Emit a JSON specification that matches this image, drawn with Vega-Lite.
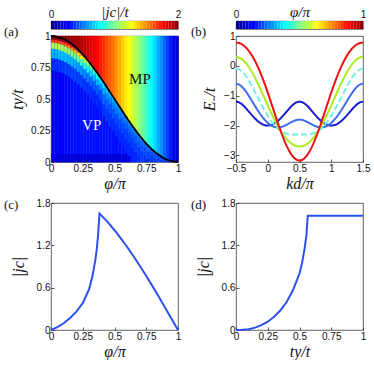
{
"$schema":"https://vega.github.io/schema/vega-lite/v6.json",
"background":"white",
"padding":{"left":3,"top":3,"right":0,"bottom":0},
"config":{
 "font":"Liberation Sans",
 "view":{"stroke":"#3a3a3a","strokeWidth":0.8},
 "axis":{"domain":false,"grid":false,"labelFont":"Liberation Sans","labelFontSize":10,"labelColor":"#111","tickColor":"#333","tickSize":-3,"tickWidth":0.8,"labelPadding":4,"titleFont":"Liberation Serif","titleFontStyle":"italic","titleFontWeight":"normal","titleFontSize":16,"titleColor":"#111","labelFlush":false,"labelOverlap":false,"format":".2~f"},
 "axisX":{"titlePadding":2},
 "axisY":{"titlePadding":5},
 "text":{"font":"Liberation Serif","fontSize":13,"color":"#111","align":"left","baseline":"middle"}
},
"datasets":{
"heat":[
{"p":0,"lo":0,"hi":1,"v":0.2},{"p":0,"lo":0,"hi":0.06,"v":0.16},{"p":0,"lo":0.725,"hi":0.825,"v":0.34},{"p":0,"lo":0.825,"hi":0.9,"v":0.61},{"p":0,"lo":0.9,"hi":0.95,"v":1.1},{"p":0,"lo":0.95,"hi":0.975,"v":1.64},{"p":0,"lo":0.975,"hi":1,"v":2},
{"p":0.025,"lo":0,"hi":0.997,"v":0.2},{"p":0.025,"lo":0,"hi":0.06,"v":0.16},{"p":0.025,"lo":0.722,"hi":0.822,"v":0.34},{"p":0.025,"lo":0.822,"hi":0.897,"v":0.61},{"p":0.025,"lo":0.897,"hi":0.947,"v":1.1},{"p":0.025,"lo":0.947,"hi":0.972,"v":1.63},{"p":0.025,"lo":0.972,"hi":0.997,"v":1.99},{"p":0.025,"lo":0.997,"hi":1,"v":2},
{"p":0.05,"lo":0,"hi":0.99,"v":0.23},{"p":0.05,"lo":0,"hi":0.06,"v":0.16},{"p":0.05,"lo":0.715,"hi":0.815,"v":0.36},{"p":0.05,"lo":0.815,"hi":0.89,"v":0.63},{"p":0.05,"lo":0.89,"hi":0.94,"v":1.1},{"p":0.05,"lo":0.94,"hi":0.965,"v":1.61},{"p":0.05,"lo":0.965,"hi":0.99,"v":1.96},{"p":0.05,"lo":0.99,"hi":1,"v":2},
{"p":0.075,"lo":0,"hi":0.981,"v":0.23},{"p":0.075,"lo":0,"hi":0.06,"v":0.16},{"p":0.075,"lo":0.706,"hi":0.806,"v":0.36},{"p":0.075,"lo":0.806,"hi":0.881,"v":0.62},{"p":0.075,"lo":0.881,"hi":0.931,"v":1.08},{"p":0.075,"lo":0.931,"hi":0.956,"v":1.59},{"p":0.075,"lo":0.956,"hi":0.981,"v":1.93},{"p":0.075,"lo":0.981,"hi":1,"v":1.99},
{"p":0.1,"lo":0,"hi":0.969,"v":0.26},{"p":0.1,"lo":0,"hi":0.06,"v":0.16},{"p":0.1,"lo":0.694,"hi":0.794,"v":0.39},{"p":0.1,"lo":0.794,"hi":0.869,"v":0.63},{"p":0.1,"lo":0.869,"hi":0.919,"v":1.07},{"p":0.1,"lo":0.919,"hi":0.944,"v":1.56},{"p":0.1,"lo":0.944,"hi":0.969,"v":1.88},{"p":0.1,"lo":0.969,"hi":1,"v":1.99},
{"p":0.125,"lo":0,"hi":0.954,"v":0.26},{"p":0.125,"lo":0,"hi":0.06,"v":0.16},{"p":0.125,"lo":0.679,"hi":0.779,"v":0.38},{"p":0.125,"lo":0.779,"hi":0.854,"v":0.62},{"p":0.125,"lo":0.854,"hi":0.904,"v":1.04},{"p":0.125,"lo":0.904,"hi":0.929,"v":1.5},{"p":0.125,"lo":0.929,"hi":0.954,"v":1.81},{"p":0.125,"lo":0.954,"hi":1,"v":1.97},
{"p":0.15,"lo":0,"hi":0.936,"v":0.28},{"p":0.15,"lo":0,"hi":0.06,"v":0.16},{"p":0.15,"lo":0.661,"hi":0.761,"v":0.39},{"p":0.15,"lo":0.761,"hi":0.836,"v":0.62},{"p":0.15,"lo":0.836,"hi":0.886,"v":1.01},{"p":0.15,"lo":0.886,"hi":0.911,"v":1.45},{"p":0.15,"lo":0.911,"hi":0.936,"v":1.74},{"p":0.15,"lo":0.936,"hi":1,"v":1.96},
{"p":0.175,"lo":0,"hi":0.916,"v":0.28},{"p":0.175,"lo":0,"hi":0.06,"v":0.16},{"p":0.175,"lo":0.641,"hi":0.741,"v":0.39},{"p":0.175,"lo":0.741,"hi":0.816,"v":0.6},{"p":0.175,"lo":0.816,"hi":0.866,"v":0.97},{"p":0.175,"lo":0.866,"hi":0.891,"v":1.38},{"p":0.175,"lo":0.891,"hi":0.916,"v":1.65},{"p":0.175,"lo":0.916,"hi":1,"v":1.94},
{"p":0.2,"lo":0,"hi":0.893,"v":0.28},{"p":0.2,"lo":0,"hi":0.06,"v":0.16},{"p":0.2,"lo":0.618,"hi":0.718,"v":0.38},{"p":0.2,"lo":0.718,"hi":0.793,"v":0.57},{"p":0.2,"lo":0.793,"hi":0.843,"v":0.92},{"p":0.2,"lo":0.843,"hi":0.868,"v":1.3},{"p":0.2,"lo":0.868,"hi":0.893,"v":1.55},{"p":0.2,"lo":0.893,"hi":1,"v":1.92},
{"p":0.225,"lo":0,"hi":0.867,"v":0.28},{"p":0.225,"lo":0,"hi":0.06,"v":0.16},{"p":0.225,"lo":0.592,"hi":0.692,"v":0.37},{"p":0.225,"lo":0.692,"hi":0.767,"v":0.55},{"p":0.225,"lo":0.767,"hi":0.817,"v":0.86},{"p":0.225,"lo":0.817,"hi":0.842,"v":1.21},{"p":0.225,"lo":0.842,"hi":0.867,"v":1.44},{"p":0.225,"lo":0.867,"hi":1,"v":1.9},
{"p":0.25,"lo":0,"hi":0.839,"v":0.28},{"p":0.25,"lo":0,"hi":0.06,"v":0.16},{"p":0.25,"lo":0.564,"hi":0.664,"v":0.36},{"p":0.25,"lo":0.664,"hi":0.739,"v":0.52},{"p":0.25,"lo":0.739,"hi":0.789,"v":0.8},{"p":0.25,"lo":0.789,"hi":0.814,"v":1.1},{"p":0.25,"lo":0.814,"hi":0.839,"v":1.31},{"p":0.25,"lo":0.839,"hi":1,"v":1.87},
{"p":0.275,"lo":0,"hi":0.81,"v":0.28},{"p":0.275,"lo":0,"hi":0.06,"v":0.16},{"p":0.275,"lo":0.535,"hi":0.635,"v":0.35},{"p":0.275,"lo":0.635,"hi":0.71,"v":0.49},{"p":0.275,"lo":0.71,"hi":0.76,"v":0.74},{"p":0.275,"lo":0.76,"hi":0.785,"v":1.01},{"p":0.275,"lo":0.785,"hi":0.81,"v":1.19},{"p":0.275,"lo":0.81,"hi":1,"v":1.85},
{"p":0.3,"lo":0,"hi":0.778,"v":0.28},{"p":0.3,"lo":0,"hi":0.06,"v":0.16},{"p":0.3,"lo":0.503,"hi":0.603,"v":0.34},{"p":0.3,"lo":0.603,"hi":0.678,"v":0.46},{"p":0.3,"lo":0.678,"hi":0.728,"v":0.67},{"p":0.3,"lo":0.728,"hi":0.753,"v":0.9},{"p":0.3,"lo":0.753,"hi":0.778,"v":1.06},{"p":0.3,"lo":0.778,"hi":1,"v":1.81},
{"p":0.325,"lo":0,"hi":0.744,"v":0.28},{"p":0.325,"lo":0,"hi":0.06,"v":0.16},{"p":0.325,"lo":0.469,"hi":0.569,"v":0.33},{"p":0.325,"lo":0.569,"hi":0.644,"v":0.44},{"p":0.325,"lo":0.644,"hi":0.694,"v":0.62},{"p":0.325,"lo":0.694,"hi":0.719,"v":0.82},{"p":0.325,"lo":0.719,"hi":0.744,"v":0.96},{"p":0.325,"lo":0.744,"hi":1,"v":1.78},
{"p":0.35,"lo":0,"hi":0.709,"v":0.28},{"p":0.35,"lo":0,"hi":0.06,"v":0.16},{"p":0.35,"lo":0.434,"hi":0.534,"v":0.33},{"p":0.35,"lo":0.534,"hi":0.609,"v":0.42},{"p":0.35,"lo":0.609,"hi":0.659,"v":0.59},{"p":0.35,"lo":0.659,"hi":0.684,"v":0.77},{"p":0.35,"lo":0.684,"hi":0.709,"v":0.89},{"p":0.35,"lo":0.709,"hi":1,"v":1.74},
{"p":0.375,"lo":0,"hi":0.673,"v":0.28},{"p":0.375,"lo":0,"hi":0.06,"v":0.16},{"p":0.375,"lo":0.398,"hi":0.498,"v":0.32},{"p":0.375,"lo":0.498,"hi":0.573,"v":0.4},{"p":0.375,"lo":0.573,"hi":0.623,"v":0.55},{"p":0.375,"lo":0.623,"hi":0.648,"v":0.71},{"p":0.375,"lo":0.648,"hi":0.673,"v":0.82},{"p":0.375,"lo":0.673,"hi":1,"v":1.7},
{"p":0.4,"lo":0,"hi":0.636,"v":0.28},{"p":0.4,"lo":0,"hi":0.06,"v":0.16},{"p":0.4,"lo":0.361,"hi":0.461,"v":0.36},{"p":0.4,"lo":0.461,"hi":0.536,"v":0.46},{"p":0.4,"lo":0.536,"hi":0.586,"v":0.58},{"p":0.4,"lo":0.586,"hi":0.611,"v":0.68},{"p":0.4,"lo":0.611,"hi":0.636,"v":0.75},{"p":0.4,"lo":0.636,"hi":1,"v":1.66},
{"p":0.425,"lo":0,"hi":0.598,"v":0.28},{"p":0.425,"lo":0,"hi":0.06,"v":0.16},{"p":0.425,"lo":0.323,"hi":0.423,"v":0.36},{"p":0.425,"lo":0.423,"hi":0.498,"v":0.44},{"p":0.425,"lo":0.498,"hi":0.548,"v":0.54},{"p":0.425,"lo":0.548,"hi":0.573,"v":0.64},{"p":0.425,"lo":0.573,"hi":0.598,"v":0.7},{"p":0.425,"lo":0.598,"hi":1,"v":1.61},
{"p":0.45,"lo":0,"hi":0.559,"v":0.28},{"p":0.45,"lo":0,"hi":0.06,"v":0.16},{"p":0.45,"lo":0.284,"hi":0.384,"v":0.35},{"p":0.45,"lo":0.384,"hi":0.459,"v":0.42},{"p":0.45,"lo":0.459,"hi":0.509,"v":0.52},{"p":0.45,"lo":0.509,"hi":0.534,"v":0.61},{"p":0.45,"lo":0.534,"hi":0.559,"v":0.66},{"p":0.45,"lo":0.559,"hi":1,"v":1.57},
{"p":0.475,"lo":0,"hi":0.52,"v":0.28},{"p":0.475,"lo":0,"hi":0.06,"v":0.16},{"p":0.475,"lo":0.245,"hi":0.345,"v":0.34},{"p":0.475,"lo":0.345,"hi":0.42,"v":0.41},{"p":0.475,"lo":0.42,"hi":0.47,"v":0.5},{"p":0.475,"lo":0.47,"hi":0.495,"v":0.58},{"p":0.475,"lo":0.495,"hi":0.52,"v":0.63},{"p":0.475,"lo":0.52,"hi":1,"v":1.52},
{"p":0.5,"lo":0,"hi":0.48,"v":0.28},{"p":0.5,"lo":0,"hi":0.06,"v":0.16},{"p":0.5,"lo":0.205,"hi":0.305,"v":0.34},{"p":0.5,"lo":0.305,"hi":0.38,"v":0.4},{"p":0.5,"lo":0.38,"hi":0.43,"v":0.49},{"p":0.5,"lo":0.43,"hi":0.455,"v":0.56},{"p":0.5,"lo":0.455,"hi":0.48,"v":0.61},{"p":0.5,"lo":0.48,"hi":1,"v":1.46},
{"p":0.525,"lo":0,"hi":0.441,"v":0.28},{"p":0.525,"lo":0,"hi":0.06,"v":0.16},{"p":0.525,"lo":0.166,"hi":0.266,"v":0.34},{"p":0.525,"lo":0.266,"hi":0.341,"v":0.4},{"p":0.525,"lo":0.341,"hi":0.391,"v":0.48},{"p":0.525,"lo":0.391,"hi":0.416,"v":0.55},{"p":0.525,"lo":0.416,"hi":0.441,"v":0.59},{"p":0.525,"lo":0.441,"hi":1,"v":1.41},
{"p":0.55,"lo":0,"hi":0.403,"v":0.28},{"p":0.55,"lo":0,"hi":0.06,"v":0.16},{"p":0.55,"lo":0.128,"hi":0.228,"v":0.33},{"p":0.55,"lo":0.228,"hi":0.303,"v":0.39},{"p":0.55,"lo":0.303,"hi":0.353,"v":0.46},{"p":0.55,"lo":0.353,"hi":0.378,"v":0.53},{"p":0.55,"lo":0.378,"hi":0.403,"v":0.57},{"p":0.55,"lo":0.403,"hi":1,"v":1.35},
{"p":0.575,"lo":0,"hi":0.364,"v":0.28},{"p":0.575,"lo":0,"hi":0.06,"v":0.16},{"p":0.575,"lo":0.089,"hi":0.189,"v":0.33},{"p":0.575,"lo":0.189,"hi":0.264,"v":0.38},{"p":0.575,"lo":0.264,"hi":0.314,"v":0.45},{"p":0.575,"lo":0.314,"hi":0.339,"v":0.51},{"p":0.575,"lo":0.339,"hi":0.364,"v":0.55},{"p":0.575,"lo":0.364,"hi":1,"v":1.29},
{"p":0.6,"lo":0,"hi":0.327,"v":0.28},{"p":0.6,"lo":0,"hi":0.06,"v":0.18},{"p":0.6,"lo":0.052,"hi":0.152,"v":0.33},{"p":0.6,"lo":0.152,"hi":0.227,"v":0.38},{"p":0.6,"lo":0.227,"hi":0.277,"v":0.44},{"p":0.6,"lo":0.277,"hi":0.302,"v":0.5},{"p":0.6,"lo":0.302,"hi":0.327,"v":0.54},{"p":0.6,"lo":0.327,"hi":1,"v":1.23},
{"p":0.625,"lo":0,"hi":0.116,"v":0.32},{"p":0.625,"lo":0.116,"hi":0.191,"v":0.37},{"p":0.625,"lo":0.191,"hi":0.241,"v":0.43},{"p":0.625,"lo":0.241,"hi":0.266,"v":0.49},{"p":0.625,"lo":0.266,"hi":0.291,"v":0.52},{"p":0.625,"lo":0.291,"hi":1,"v":1.17},
{"p":0.65,"lo":0,"hi":0.081,"v":0.32},{"p":0.65,"lo":0.081,"hi":0.156,"v":0.37},{"p":0.65,"lo":0.156,"hi":0.206,"v":0.42},{"p":0.65,"lo":0.206,"hi":0.231,"v":0.48},{"p":0.65,"lo":0.231,"hi":0.256,"v":0.51},{"p":0.65,"lo":0.256,"hi":1,"v":1.1},
{"p":0.675,"lo":0,"hi":0.047,"v":0.32},{"p":0.675,"lo":0.047,"hi":0.122,"v":0.36},{"p":0.675,"lo":0.122,"hi":0.172,"v":0.41},{"p":0.675,"lo":0.172,"hi":0.197,"v":0.46},{"p":0.675,"lo":0.197,"hi":0.222,"v":0.49},{"p":0.675,"lo":0.222,"hi":1,"v":1.04},
{"p":0.7,"lo":0,"hi":0.091,"v":0.36},{"p":0.7,"lo":0.091,"hi":0.141,"v":0.41},{"p":0.7,"lo":0.141,"hi":0.166,"v":0.45},{"p":0.7,"lo":0.166,"hi":0.191,"v":0.48},{"p":0.7,"lo":0.191,"hi":1,"v":0.97},
{"p":0.725,"lo":0,"hi":0.061,"v":0.35},{"p":0.725,"lo":0.061,"hi":0.111,"v":0.39},{"p":0.725,"lo":0.111,"hi":0.136,"v":0.43},{"p":0.725,"lo":0.136,"hi":0.161,"v":0.46},{"p":0.725,"lo":0.161,"hi":1,"v":0.9},
{"p":0.75,"lo":0,"hi":0.033,"v":0.34},{"p":0.75,"lo":0.033,"hi":0.083,"v":0.39},{"p":0.75,"lo":0.083,"hi":0.108,"v":0.43},{"p":0.75,"lo":0.108,"hi":0.133,"v":0.45},{"p":0.75,"lo":0.133,"hi":1,"v":0.83},
{"p":0.775,"lo":0,"hi":0.057,"v":0.37},{"p":0.775,"lo":0.057,"hi":0.082,"v":0.41},{"p":0.775,"lo":0.082,"hi":0.107,"v":0.43},{"p":0.775,"lo":0.107,"hi":1,"v":0.76},
{"p":0.8,"lo":0,"hi":0.034,"v":0.37},{"p":0.8,"lo":0.034,"hi":0.059,"v":0.4},{"p":0.8,"lo":0.059,"hi":0.084,"v":0.42},{"p":0.8,"lo":0.084,"hi":1,"v":0.69},
{"p":0.825,"lo":0,"hi":0.014,"v":0.36},{"p":0.825,"lo":0.014,"hi":0.039,"v":0.38},{"p":0.825,"lo":0.039,"hi":0.064,"v":0.4},{"p":0.825,"lo":0.064,"hi":1,"v":0.61},
{"p":0.85,"lo":0,"hi":0.021,"v":0.37},{"p":0.85,"lo":0.021,"hi":0.046,"v":0.39},{"p":0.85,"lo":0.046,"hi":1,"v":0.54},
{"p":0.875,"lo":0,"hi":0.031,"v":0.37},{"p":0.875,"lo":0.031,"hi":1,"v":0.46},
{"p":0.9,"lo":0,"hi":0.019,"v":0.36},{"p":0.9,"lo":0.019,"hi":1,"v":0.38},
{"p":0.925,"lo":0,"hi":0.01,"v":0.34},{"p":0.925,"lo":0.01,"hi":1,"v":0.31},
{"p":0.95,"lo":0,"hi":1,"v":0.23},
{"p":0.975,"lo":0,"hi":1,"v":0.15}
],
"bnd":[{"f":0,"b":1},{"f":0.05,"b":0.994},{"f":0.1,"b":0.976},{"f":0.15,"b":0.946},{"f":0.2,"b":0.905},{"f":0.25,"b":0.854},{"f":0.3,"b":0.794},{"f":0.35,"b":0.727},{"f":0.4,"b":0.655},{"f":0.45,"b":0.578},{"f":0.5,"b":0.5},{"f":0.55,"b":0.422},{"f":0.6,"b":0.345},{"f":0.65,"b":0.273},{"f":0.7,"b":0.206},{"f":0.75,"b":0.146},{"f":0.8,"b":0.095},{"f":0.85,"b":0.055},{"f":0.9,"b":0.024},{"f":0.95,"b":0.006},{"f":1,"b":0}],
"cbA":[{"a":0,"b":0.05},{"a":0.05,"b":0.1},{"a":0.1,"b":0.15},{"a":0.15,"b":0.2},{"a":0.2,"b":0.25},{"a":0.25,"b":0.3},{"a":0.3,"b":0.35},{"a":0.35,"b":0.4},{"a":0.4,"b":0.45},{"a":0.45,"b":0.5},{"a":0.5,"b":0.55},{"a":0.55,"b":0.6},{"a":0.6,"b":0.65},{"a":0.65,"b":0.7},{"a":0.7,"b":0.75},{"a":0.75,"b":0.8},{"a":0.8,"b":0.85},{"a":0.85,"b":0.9},{"a":0.9,"b":0.95},{"a":0.95,"b":1},{"a":1,"b":1.05},{"a":1.05,"b":1.1},{"a":1.1,"b":1.15},{"a":1.15,"b":1.2},{"a":1.2,"b":1.25},{"a":1.25,"b":1.3},{"a":1.3,"b":1.35},{"a":1.35,"b":1.4},{"a":1.4,"b":1.45},{"a":1.45,"b":1.5},{"a":1.5,"b":1.55},{"a":1.55,"b":1.6},{"a":1.6,"b":1.65},{"a":1.65,"b":1.7},{"a":1.7,"b":1.75},{"a":1.75,"b":1.8},{"a":1.8,"b":1.85},{"a":1.85,"b":1.9},{"a":1.9,"b":1.95},{"a":1.95,"b":2}],
"cbB":[{"a":0,"b":0.025},{"a":0.025,"b":0.05},{"a":0.05,"b":0.075},{"a":0.075,"b":0.1},{"a":0.1,"b":0.125},{"a":0.125,"b":0.15},{"a":0.15,"b":0.175},{"a":0.175,"b":0.2},{"a":0.2,"b":0.225},{"a":0.225,"b":0.25},{"a":0.25,"b":0.275},{"a":0.275,"b":0.3},{"a":0.3,"b":0.325},{"a":0.325,"b":0.35},{"a":0.35,"b":0.375},{"a":0.375,"b":0.4},{"a":0.4,"b":0.425},{"a":0.425,"b":0.45},{"a":0.45,"b":0.475},{"a":0.475,"b":0.5},{"a":0.5,"b":0.525},{"a":0.525,"b":0.55},{"a":0.55,"b":0.575},{"a":0.575,"b":0.6},{"a":0.6,"b":0.625},{"a":0.625,"b":0.65},{"a":0.65,"b":0.675},{"a":0.675,"b":0.7},{"a":0.7,"b":0.725},{"a":0.725,"b":0.75},{"a":0.75,"b":0.775},{"a":0.775,"b":0.8},{"a":0.8,"b":0.825},{"a":0.825,"b":0.85},{"a":0.85,"b":0.875},{"a":0.875,"b":0.9},{"a":0.9,"b":0.925},{"a":0.925,"b":0.95},{"a":0.95,"b":0.975},{"a":0.975,"b":1}],
"bands":[
{"c":"D","k":-0.5,"E":-1.2},{"c":"D","k":-0.45,"E":-1.226},{"c":"D","k":-0.4,"E":-1.298},{"c":"D","k":-0.35,"E":-1.403},{"c":"D","k":-0.3,"E":-1.525},{"c":"D","k":-0.25,"E":-1.649},{"c":"D","k":-0.2,"E":-1.765},{"c":"D","k":-0.15,"E":-1.863},{"c":"D","k":-0.1,"E":-1.938},{"c":"D","k":-0.05,"E":-1.984},{"c":"D","k":0,"E":-2.0},{"c":"D","k":0.05,"E":-1.984},{"c":"D","k":0.1,"E":-1.938},{"c":"D","k":0.15,"E":-1.863},{"c":"D","k":0.2,"E":-1.765},{"c":"D","k":0.25,"E":-1.649},{"c":"D","k":0.3,"E":-1.525},{"c":"D","k":0.35,"E":-1.403},{"c":"D","k":0.4,"E":-1.298},{"c":"D","k":0.45,"E":-1.226},{"c":"D","k":0.5,"E":-1.2},{"c":"D","k":0.55,"E":-1.226},{"c":"D","k":0.6,"E":-1.298},{"c":"D","k":0.65,"E":-1.403},{"c":"D","k":0.7,"E":-1.525},{"c":"D","k":0.75,"E":-1.649},{"c":"D","k":0.8,"E":-1.765},{"c":"D","k":0.85,"E":-1.863},{"c":"D","k":0.9,"E":-1.938},{"c":"D","k":0.95,"E":-1.984},{"c":"D","k":1,"E":-2.0},{"c":"D","k":1.05,"E":-1.984},{"c":"D","k":1.1,"E":-1.938},{"c":"D","k":1.15,"E":-1.863},{"c":"D","k":1.2,"E":-1.765},{"c":"D","k":1.25,"E":-1.649},{"c":"D","k":1.3,"E":-1.525},{"c":"D","k":1.35,"E":-1.403},{"c":"D","k":1.4,"E":-1.298},{"c":"D","k":1.45,"E":-1.226},{"c":"D","k":1.5,"E":-1.2},
{"c":"M","k":-0.5,"E":-0.6},{"c":"M","k":-0.45,"E":-0.63},{"c":"M","k":-0.4,"E":-0.714},{"c":"M","k":-0.35,"E":-0.841},{"c":"M","k":-0.3,"E":-0.998},{"c":"M","k":-0.25,"E":-1.169},{"c":"M","k":-0.2,"E":-1.344},{"c":"M","k":-0.15,"E":-1.513},{"c":"M","k":-0.1,"E":-1.667},{"c":"M","k":-0.05,"E":-1.8},{"c":"M","k":0,"E":-1.908},{"c":"M","k":0.05,"E":-1.988},{"c":"M","k":0.1,"E":-2.037},{"c":"M","k":0.15,"E":-2.058},{"c":"M","k":0.2,"E":-2.05},{"c":"M","k":0.25,"E":-2.018},{"c":"M","k":0.3,"E":-1.969},{"c":"M","k":0.35,"E":-1.911},{"c":"M","k":0.4,"E":-1.855},{"c":"M","k":0.45,"E":-1.815},{"c":"M","k":0.5,"E":-1.8},{"c":"M","k":0.55,"E":-1.815},{"c":"M","k":0.6,"E":-1.855},{"c":"M","k":0.65,"E":-1.911},{"c":"M","k":0.7,"E":-1.969},{"c":"M","k":0.75,"E":-2.018},{"c":"M","k":0.8,"E":-2.05},{"c":"M","k":0.85,"E":-2.058},{"c":"M","k":0.9,"E":-2.037},{"c":"M","k":0.95,"E":-1.988},{"c":"M","k":1,"E":-1.908},{"c":"M","k":1.05,"E":-1.8},{"c":"M","k":1.1,"E":-1.667},{"c":"M","k":1.15,"E":-1.513},{"c":"M","k":1.2,"E":-1.344},{"c":"M","k":1.25,"E":-1.169},{"c":"M","k":1.3,"E":-0.998},{"c":"M","k":1.35,"E":-0.841},{"c":"M","k":1.4,"E":-0.714},{"c":"M","k":1.45,"E":-0.63},{"c":"M","k":1.5,"E":-0.6},
{"c":"C","k":-0.5,"E":-0.1},{"c":"C","k":-0.45,"E":-0.127},{"c":"C","k":-0.4,"E":-0.206},{"c":"C","k":-0.35,"E":-0.331},{"c":"C","k":-0.3,"E":-0.491},{"c":"C","k":-0.25,"E":-0.677},{"c":"C","k":-0.2,"E":-0.878},{"c":"C","k":-0.15,"E":-1.086},{"c":"C","k":-0.1,"E":-1.291},{"c":"C","k":-0.05,"E":-1.488},{"c":"C","k":0,"E":-1.67},{"c":"C","k":0.05,"E":-1.833},{"c":"C","k":0.1,"E":-1.971},{"c":"C","k":0.15,"E":-2.084},{"c":"C","k":0.2,"E":-2.171},{"c":"C","k":0.25,"E":-2.232},{"c":"C","k":0.3,"E":-2.271},{"c":"C","k":0.35,"E":-2.291},{"c":"C","k":0.4,"E":-2.299},{"c":"C","k":0.45,"E":-2.3},{"c":"C","k":0.5,"E":-2.3},{"c":"C","k":0.55,"E":-2.3},{"c":"C","k":0.6,"E":-2.299},{"c":"C","k":0.65,"E":-2.291},{"c":"C","k":0.7,"E":-2.271},{"c":"C","k":0.75,"E":-2.232},{"c":"C","k":0.8,"E":-2.171},{"c":"C","k":0.85,"E":-2.084},{"c":"C","k":0.9,"E":-1.971},{"c":"C","k":0.95,"E":-1.833},{"c":"C","k":1,"E":-1.67},{"c":"C","k":1.05,"E":-1.488},{"c":"C","k":1.1,"E":-1.291},{"c":"C","k":1.15,"E":-1.086},{"c":"C","k":1.2,"E":-0.878},{"c":"C","k":1.25,"E":-0.677},{"c":"C","k":1.3,"E":-0.491},{"c":"C","k":1.35,"E":-0.331},{"c":"C","k":1.4,"E":-0.206},{"c":"C","k":1.45,"E":-0.127},{"c":"C","k":1.5,"E":-0.1},
{"c":"G","k":-0.5,"E":0.3},{"c":"G","k":-0.45,"E":0.278},{"c":"G","k":-0.4,"E":0.214},{"c":"G","k":-0.35,"E":0.11},{"c":"G","k":-0.3,"E":-0.03},{"c":"G","k":-0.25,"E":-0.202},{"c":"G","k":-0.2,"E":-0.4},{"c":"G","k":-0.15,"E":-0.618},{"c":"G","k":-0.1,"E":-0.848},{"c":"G","k":-0.05,"E":-1.085},{"c":"G","k":0,"E":-1.323},{"c":"G","k":0.05,"E":-1.555},{"c":"G","k":0.1,"E":-1.775},{"c":"G","k":0.15,"E":-1.98},{"c":"G","k":0.2,"E":-2.164},{"c":"G","k":0.25,"E":-2.324},{"c":"G","k":0.3,"E":-2.457},{"c":"G","k":0.35,"E":-2.563},{"c":"G","k":0.4,"E":-2.639},{"c":"G","k":0.45,"E":-2.685},{"c":"G","k":0.5,"E":-2.7},{"c":"G","k":0.55,"E":-2.685},{"c":"G","k":0.6,"E":-2.639},{"c":"G","k":0.65,"E":-2.563},{"c":"G","k":0.7,"E":-2.457},{"c":"G","k":0.75,"E":-2.324},{"c":"G","k":0.8,"E":-2.164},{"c":"G","k":0.85,"E":-1.98},{"c":"G","k":0.9,"E":-1.775},{"c":"G","k":0.95,"E":-1.555},{"c":"G","k":1,"E":-1.323},{"c":"G","k":1.05,"E":-1.085},{"c":"G","k":1.1,"E":-0.848},{"c":"G","k":1.15,"E":-0.618},{"c":"G","k":1.2,"E":-0.4},{"c":"G","k":1.25,"E":-0.202},{"c":"G","k":1.3,"E":-0.03},{"c":"G","k":1.35,"E":0.11},{"c":"G","k":1.4,"E":0.214},{"c":"G","k":1.45,"E":0.278},{"c":"G","k":1.5,"E":0.3},
{"c":"R","k":-0.5,"E":0.78},{"c":"R","k":-0.45,"E":0.763},{"c":"R","k":-0.4,"E":0.712},{"c":"R","k":-0.35,"E":0.626},{"c":"R","k":-0.3,"E":0.506},{"c":"R","k":-0.25,"E":0.352},{"c":"R","k":-0.2,"E":0.162},{"c":"R","k":-0.15,"E":-0.06},{"c":"R","k":-0.1,"E":-0.313},{"c":"R","k":-0.05,"E":-0.593},{"c":"R","k":0,"E":-0.895},{"c":"R","k":0.05,"E":-1.211},{"c":"R","k":0.1,"E":-1.534},{"c":"R","k":0.15,"E":-1.853},{"c":"R","k":0.2,"E":-2.16},{"c":"R","k":0.25,"E":-2.442},{"c":"R","k":0.3,"E":-2.689},{"c":"R","k":0.35,"E":-2.893},{"c":"R","k":0.4,"E":-3.045},{"c":"R","k":0.45,"E":-3.138},{"c":"R","k":0.5,"E":-3.17},{"c":"R","k":0.55,"E":-3.138},{"c":"R","k":0.6,"E":-3.045},{"c":"R","k":0.65,"E":-2.893},{"c":"R","k":0.7,"E":-2.689},{"c":"R","k":0.75,"E":-2.442},{"c":"R","k":0.8,"E":-2.16},{"c":"R","k":0.85,"E":-1.853},{"c":"R","k":0.9,"E":-1.534},{"c":"R","k":0.95,"E":-1.211},{"c":"R","k":1,"E":-0.895},{"c":"R","k":1.05,"E":-0.593},{"c":"R","k":1.1,"E":-0.313},{"c":"R","k":1.15,"E":-0.06},{"c":"R","k":1.2,"E":0.162},{"c":"R","k":1.25,"E":0.352},{"c":"R","k":1.3,"E":0.506},{"c":"R","k":1.35,"E":0.626},{"c":"R","k":1.4,"E":0.712},{"c":"R","k":1.45,"E":0.763},{"c":"R","k":1.5,"E":0.78}
],
"jphi":[{"f":0,"j":0},{"f":0.05,"j":0.04},{"f":0.1,"j":0.095},{"f":0.15,"j":0.17},{"f":0.2,"j":0.26},{"f":0.25,"j":0.38},{"f":0.3,"j":0.58},{"f":0.325,"j":0.75},{"f":0.35,"j":1.0},{"f":0.36,"j":1.14},{"f":0.37,"j":1.33},{"f":0.382,"j":1.65},{"f":0.4,"j":1.618},{"f":0.45,"j":1.521},{"f":0.5,"j":1.414},{"f":0.55,"j":1.299},{"f":0.6,"j":1.176},{"f":0.65,"j":1.045},{"f":0.7,"j":0.908},{"f":0.75,"j":0.765},{"f":0.8,"j":0.618},{"f":0.85,"j":0.467},{"f":0.9,"j":0.313},{"f":0.95,"j":0.157},{"f":1,"j":0}],
"jty":[{"t":0,"j":0},{"t":0.05,"j":0.002},{"t":0.1,"j":0.012},{"t":0.15,"j":0.034},{"t":0.2,"j":0.068},{"t":0.25,"j":0.118},{"t":0.3,"j":0.188},{"t":0.35,"j":0.28},{"t":0.4,"j":0.4},{"t":0.45,"j":0.57},{"t":0.5,"j":0.8},{"t":0.52,"j":0.95},{"t":0.54,"j":1.15},{"t":0.555,"j":1.35},{"t":0.565,"j":1.62},{"t":0.7,"j":1.62},{"t":1,"j":1.62}]
},
"concat":[
 {"width":127,"height":8,"data":{"name":"cbA"},"mark":{"type":"rect"},
  "encoding":{
   "x":{"field":"a","type":"quantitative","scale":{"domain":[0,2],"nice":false},"axis":{"orient":"top","values":[0,2],"ticks":false,"labelPadding":2,"title":"|jc|/t","titleY":-5,"titleBaseline":"alphabetic","titleFontSize":15}},
   "x2":{"field":"b"},
   "color":{"field":"a","type":"quantitative","scale":{"type":"linear","domain":[0,0.25,0.75,1.25,1.75,2],"range":["#00008f","#0000ff","#00ffff","#ffff00","#ff0000","#800000"],"interpolate":"rgb"},"legend":null}}},
 {"width":127,"height":8,"data":{"name":"cbB"},"mark":{"type":"rect"},
  "encoding":{
   "x":{"field":"a","type":"quantitative","scale":{"domain":[0,1],"nice":false},"axis":{"orient":"top","values":[0,1],"ticks":false,"labelPadding":2,"title":"φ/π","titleY":-5,"titleBaseline":"alphabetic","titleFontSize":15}},
   "x2":{"field":"b"},
   "color":{"field":"a","type":"quantitative","scale":{"type":"linear","domain":[0,0.125,0.375,0.625,0.875,1],"range":["#00008f","#0000ff","#00ffff","#ffff00","#ff0000","#800000"],"interpolate":"rgb"},"legend":null}}},
 {"width":127,"height":126,
  "layer":[
   {"data":{"name":"heat"},"mark":{"type":"rect","strokeWidth":0.4},
    "encoding":{
     "x":{"field":"p","type":"quantitative","bin":{"binned":true,"step":0.025},"scale":{"domain":[0,1],"nice":false},"axis":{"values":[0,0.25,0.5,0.75,1],"title":"φ/π"}},
     "y":{"field":"lo","type":"quantitative","scale":{"domain":[0,1],"nice":false},"axis":{"values":[0,0.25,0.5,0.75,1],"tickCount":5,"title":"ty/t"}},
     "y2":{"field":"hi"},
     "color":{"field":"v","type":"quantitative","scale":{"type":"linear","domain":[0,0.25,0.75,1.25,1.75,2],"range":["#00008f","#0000ff","#00ffff","#ffff00","#ff0000","#800000"],"interpolate":"rgb"},"legend":null},
     "stroke":{"field":"v","type":"quantitative","scale":{"type":"linear","domain":[0,0.25,0.75,1.25,1.75,2],"range":["#00008f","#0000ff","#00ffff","#ffff00","#ff0000","#800000"],"interpolate":"rgb"},"legend":null}}},
   {"data":{"name":"bnd"},"mark":{"type":"line","color":"#000","strokeWidth":1.8,"interpolate":"monotone"},
    "encoding":{"x":{"field":"f","type":"quantitative","axis":{"values":[0,0.25,0.5,0.75,1],"title":"φ/π"}},"y":{"field":"b","type":"quantitative","axis":{"values":[0,0.25,0.5,0.75,1],"tickCount":5,"title":"ty/t"}}}},
   {"data":{"values":[{}]},"mark":{"type":"text","fontSize":15,"align":"center"},
    "encoding":{"x":{"datum":0.7,"axis":{"values":[0,0.25,0.5,0.75,1],"title":"φ/π"}},"y":{"datum":0.66,"axis":{"values":[0,0.25,0.5,0.75,1],"tickCount":5,"title":"ty/t"}},"text":{"value":"MP"}}},
   {"data":{"values":[{}]},"mark":{"type":"text","fontSize":15,"align":"center","color":"#ffffff"},
    "encoding":{"x":{"datum":0.32,"axis":{"values":[0,0.25,0.5,0.75,1],"title":"φ/π"}},"y":{"datum":0.29,"axis":{"values":[0,0.25,0.5,0.75,1],"tickCount":5,"title":"ty/t"}},"text":{"value":"VP"}}},
   {"data":{"values":[{}]},"mark":{"type":"text"},
    "encoding":{"x":{"datum":-0.37,"axis":{"values":[0,0.25,0.5,0.75,1],"title":"φ/π"}},"y":{"datum":1.03,"axis":{"values":[0,0.25,0.5,0.75,1],"tickCount":5,"title":"ty/t"}},"text":{"value":"(a)"}}}
  ]},
 {"width":127,"height":126,
  "layer":[
   {"data":{"name":"bands"},"mark":{"type":"line","strokeWidth":2,"interpolate":"monotone"},
    "encoding":{
     "x":{"field":"k","type":"quantitative","scale":{"domain":[-0.5,1.5],"nice":false},"axis":{"values":[-0.5,0,0.5,1,1.5],"title":"kd/π"}},
     "y":{"field":"E","type":"quantitative","scale":{"domain":[-3.22,1],"nice":false,"zero":false},"axis":{"values":[1,0,-1,-2,-3],"title":"E₋/t","titlePadding":6}},
     "color":{"field":"c","type":"nominal","scale":{"domain":["D","M","C","G","R"],"range":["#1a1ad0","#3d6cf2","#70f0e0","#a6ec1e","#ee1111"]},"legend":null},
     "strokeDash":{"field":"c","type":"nominal","scale":{"domain":["D","M","C","G","R"],"range":[[1,0],[1,0],[6,3],[1,0],[1,0]]},"legend":null}}},
   {"data":{"values":[{}]},"mark":{"type":"text"},
    "encoding":{"x":{"datum":-1.21,"axis":{"values":[-0.5,0,0.5,1,1.5],"title":"kd/π"}},"y":{"datum":1.13,"axis":{"values":[1,0,-1,-2,-3],"title":"E₋/t","titlePadding":6}},"text":{"value":"(b)"}}}
  ]},
 {"width":127,"height":27,"data":{"values":[{}]},"mark":{"type":"point","opacity":0},"encoding":{},"view":{"stroke":null}},
 {"width":127,"height":27,"data":{"values":[{}]},"mark":{"type":"point","opacity":0},"encoding":{},"view":{"stroke":null}},
 {"width":127,"height":127,
  "layer":[
   {"data":{"name":"jphi"},"mark":{"type":"line","color":"#2d50f0","strokeWidth":2},
    "encoding":{
     "x":{"field":"f","type":"quantitative","scale":{"domain":[0,1],"nice":false},"axis":{"values":[0,0.25,0.5,0.75,1],"title":"φ/π"}},
     "y":{"field":"j","type":"quantitative","scale":{"domain":[0,1.8],"nice":false},"axis":{"values":[0,0.6,1.2,1.8],"title":"|jc|","titlePadding":10}}}},
   {"data":{"values":[{}]},"mark":{"type":"text"},
    "encoding":{"x":{"datum":-0.37,"axis":{"values":[0,0.25,0.5,0.75,1],"title":"φ/π"}},"y":{"datum":1.77,"axis":{"values":[0,0.6,1.2,1.8],"title":"|jc|","titlePadding":10}},"text":{"value":"(c)"}}}
  ]},
 {"width":127,"height":127,
  "layer":[
   {"data":{"name":"jty"},"mark":{"type":"line","color":"#2d50f0","strokeWidth":2},
    "encoding":{
     "x":{"field":"t","type":"quantitative","scale":{"domain":[0,1],"nice":false},"axis":{"values":[0,0.25,0.5,0.75,1],"title":"ty/t"}},
     "y":{"field":"j","type":"quantitative","scale":{"domain":[0,1.8],"nice":false},"axis":{"values":[0,0.6,1.2,1.8],"title":"|jc|","titlePadding":10}}}},
   {"data":{"values":[{}]},"mark":{"type":"text"},
    "encoding":{"x":{"datum":-0.355,"axis":{"values":[0,0.25,0.5,0.75,1],"title":"ty/t"}},"y":{"datum":1.77,"axis":{"values":[0,0.6,1.2,1.8],"title":"|jc|","titlePadding":10}},"text":{"value":"(d)"}}}
  ]}
],
"columns":2,
"spacing":{"row":7,"column":58},
"bounds":"flush",
"align":"each",
"resolve":{"scale":{"color":"independent","x":"independent","y":"independent"}}
}
